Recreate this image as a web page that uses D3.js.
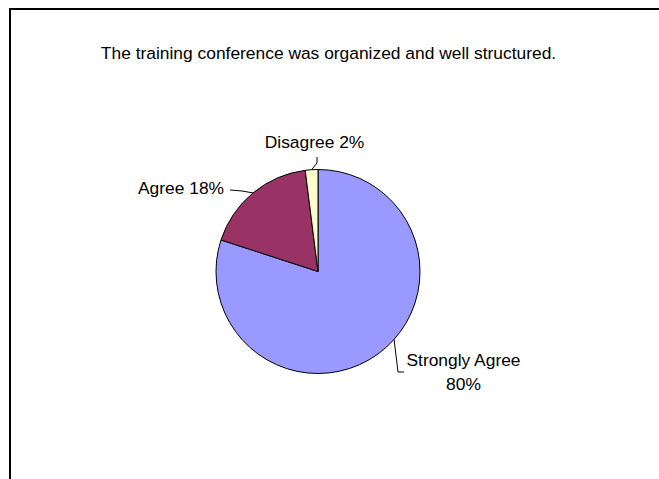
<!DOCTYPE html>
<html><head><meta charset="utf-8">
<script src="https://cdn.jsdelivr.net/npm/d3@7"></script>
<style>
html,body{margin:0;padding:0;background:#fff;}
svg{display:block;}
text{font-family:"Liberation Sans Narrow","Arial Narrow","Liberation Sans",Arial,sans-serif;fill:#000;}
</style></head>
<body>
<svg id="chart" width="659" height="479"></svg>
<script>
const title = "The training conference was organized and well structured.";
const categories = ["Strongly Agree", "Agree", "Disagree"];
const values = [80, 18, 2];
const colors = ["#9999FF", "#993366", "#FFFFCC"];

const fs = "17.4px";
const svg = d3.select("#chart");
svg.append("rect").attr("x", 10).attr("y", 9).attr("width", 700).attr("height", 520)
  .attr("fill", "#fff").attr("stroke", "#000").attr("stroke-width", 2);

svg.append("text").attr("x", 328.5).attr("y", 59).attr("text-anchor", "middle")
  .style("font-size", fs).text(title);

const cx = 318, cy = 271.5, r = 102;
const data = categories.map((c, i) => ({cat: c, value: values[i], color: colors[i]}));
const pie = d3.pie().value(d => d.value).sort(null);
const arc = d3.arc().innerRadius(0).outerRadius(r);
const arcs = pie(data);
const g = svg.append("g").attr("transform", `translate(${cx},${cy})`);
g.selectAll("path").data(arcs).join("path")
  .attr("d", arc).attr("fill", d => d.data.color)
  .attr("stroke", "#000").attr("stroke-width", 1);

// leader lines and labels
const pt = (a, rr) => [Math.sin(a) * rr, -Math.cos(a) * rr];
const mid = d => (d.startAngle + d.endAngle) / 2;
const labelCfg = [
  {lines: ["Strongly Agree", "80%"], tx: 463.5, ty: 366, elbow: [[398,372],[404,372]], a: 2.3},
  {lines: ["Agree 18%"], tx: 181, ty: 194, elbow: [[242,191],[230,190]], a: null},
  {lines: ["Disagree 2%"], tx: 314.5, ty: 148, elbow: [[317,163],[317,157]], a: null}
];
arcs.forEach((d, i) => {
  const cfg = labelCfg[i];
  const a = cfg.a !== null ? cfg.a : mid(d);
  const p0 = pt(a, r);
  const pts = [[cx + p0[0], cy + p0[1]]].concat(cfg.elbow);
  svg.append("path").attr("d", d3.line()(pts)).attr("fill", "none")
    .attr("stroke", "#000").attr("stroke-width", 1);
  const t = svg.append("text").attr("text-anchor", "middle").style("font-size", fs);
  cfg.lines.forEach((ln, j) => {
    t.append("tspan").attr("x", cfg.tx).attr("y", cfg.ty + j * 24).text(ln);
  });
});
</script>
</body></html>
